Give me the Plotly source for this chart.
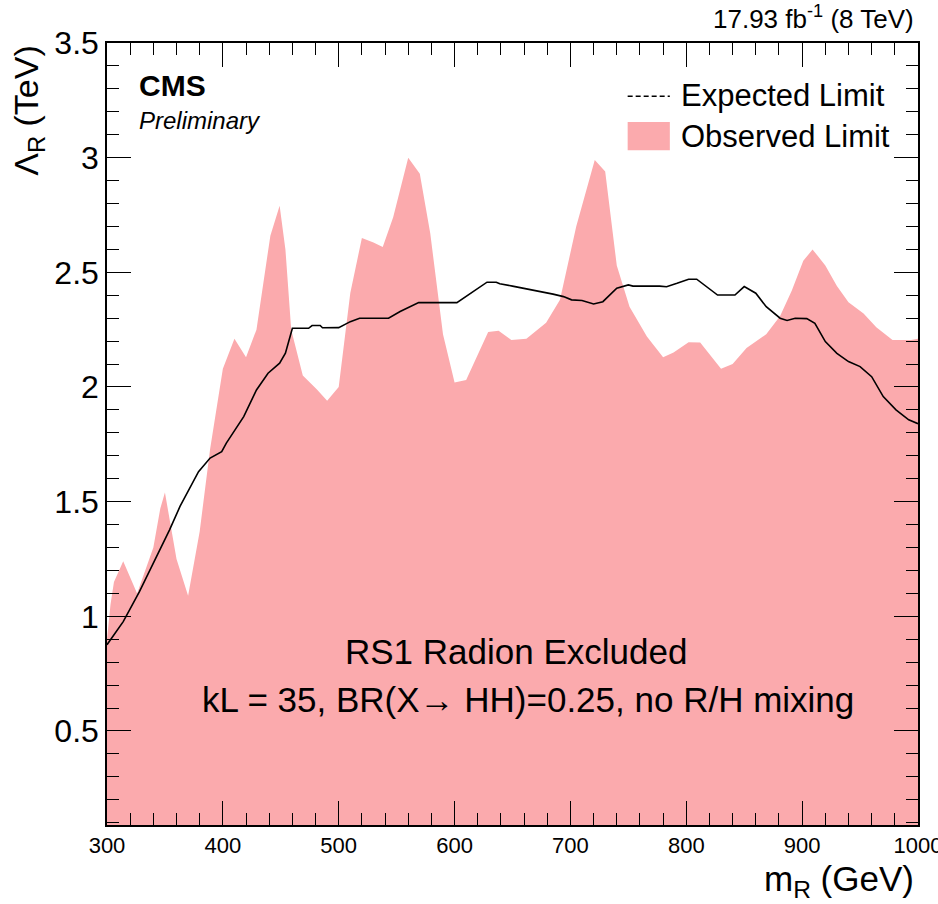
import plotly.graph_objects as go

# Observed limit (filled region)
obs_m = [300, 303, 306, 314, 326, 340, 346, 350, 360, 370, 380, 389, 400, 410, 420, 429,
         441, 449, 454, 459, 469, 481, 490, 500, 510, 520, 530, 538, 547, 560, 570, 579,
         590, 600, 610, 629, 638, 649, 662, 679, 691, 705, 721, 730, 740, 751, 766, 780,
         789, 802, 812, 830, 840, 852, 869, 881, 891, 901, 909, 920, 930, 940, 953, 964,
         978, 994, 1000]
obs_v = [0.90, 1.05, 1.15, 1.24, 1.10, 1.30, 1.47, 1.54, 1.25, 1.09, 1.37, 1.73, 2.08, 2.21, 2.13, 2.25,
         2.66, 2.79, 2.60, 2.25, 2.05, 1.99, 1.94, 2.00, 2.41, 2.65, 2.63, 2.61, 2.74, 3.00, 2.93, 2.67,
         2.23, 2.02, 2.03, 2.24, 2.245, 2.205, 2.21, 2.28, 2.38, 2.70, 2.99, 2.94, 2.53, 2.35, 2.22, 2.13,
         2.15, 2.195, 2.194, 2.08, 2.10, 2.17, 2.23, 2.31, 2.42, 2.55, 2.60, 2.53, 2.44, 2.37, 2.32, 2.26,
         2.205, 2.205, 2.21]

# Expected limit (line)
exp_m = [300, 314, 328, 343, 354, 363, 379, 389, 399, 403, 418, 429, 439, 449, 454, 460, 474, 477,
         484, 486, 500, 510, 518, 543, 553, 569, 602, 616, 628, 636, 639, 650, 661, 671, 685, 694,
         701, 710, 720, 728, 735, 740, 750, 754, 777, 783, 792, 802, 809, 820, 827, 842, 850, 860,
         869, 881, 887, 894, 904, 911, 920, 930, 940, 950, 960, 970, 981, 992, 1000]
exp_v = [0.876, 0.977, 1.108, 1.261, 1.377, 1.479, 1.631, 1.69, 1.718, 1.755, 1.871, 1.987, 2.06,
         2.104, 2.147, 2.256, 2.256, 2.268, 2.268, 2.258, 2.259, 2.285, 2.30, 2.30, 2.329, 2.368,
         2.368, 2.416, 2.457, 2.457, 2.45, 2.44, 2.43, 2.42, 2.405, 2.394, 2.38, 2.377, 2.362, 2.372,
         2.409, 2.431, 2.445, 2.44, 2.44, 2.437, 2.452, 2.47, 2.47, 2.426, 2.401, 2.401, 2.438, 2.409,
         2.35, 2.30, 2.29, 2.30, 2.298, 2.278, 2.198, 2.147, 2.111, 2.089, 2.045, 1.958, 1.90, 1.857, 1.84]

x_ticks = [300, 400, 500, 600, 700, 800, 900, 1000]
y_ticks = [0.5, 1, 1.5, 2, 2.5, 3, 3.5]

PINK = "#FBAAAD"
FONT = "Liberation Sans, Arial, Helvetica, sans-serif"

fig = go.Figure()
fig.add_trace(go.Scatter(x=obs_m, y=obs_v, mode="lines", fill="tozeroy",
                         fillcolor=PINK, line=dict(width=0, color=PINK),
                         showlegend=False, hoverinfo="skip"))
fig.add_trace(go.Scatter(x=exp_m, y=exp_v, mode="lines",
                         line=dict(color="black", width=1.6),
                         showlegend=False))

fig.update_layout(
    width=938, height=904,
    margin=dict(l=107, r=20, t=43, b=79),
    plot_bgcolor="white", paper_bgcolor="white",
    font=dict(family=FONT, color="black"),
    showlegend=False,
)
fig.update_xaxes(range=[300, 1000], tickvals=x_ticks, ticktext=[str(v) for v in x_ticks],
                 ticks="inside", ticklen=24, tickwidth=1.3, tickcolor="black",
                 minor=dict(dtick=20, ticks="inside", ticklen=12, tickwidth=1.3, tickcolor="black"),
                 showline=True, linecolor="black", linewidth=1.5, mirror="allticks",
                 showgrid=False, zeroline=False, tickfont=dict(size=22, family=FONT),
                 ticklabeloverflow="allow", automargin=False)
fig.update_yaxes(range=[0.09, 3.5], tickvals=y_ticks, ticktext=["0.5", "1", "1.5", "2", "2.5", "3", "3.5"],
                 ticks="inside", ticklen=24, tickwidth=1.3, tickcolor="black",
                 minor=dict(dtick=0.1, tick0=0, ticks="inside", ticklen=12, tickwidth=1.3, tickcolor="black"),
                 showline=True, linecolor="black", linewidth=1.5, mirror="allticks",
                 showgrid=False, zeroline=False, tickfont=dict(size=32, family=FONT),
                 automargin=False)

ann = []
ann.append(dict(text="m<sub>R</sub> (GeV)", xref="paper", yref="paper", x=0.997, y=-0.072,
                xanchor="right", yanchor="middle", showarrow=False, font=dict(size=35)))
ann.append(dict(text="Λ<sub>R</sub> (TeV)", xref="paper", yref="paper", x=-0.097, y=1.0,
                xanchor="center", yanchor="top", textangle=-90, showarrow=False, font=dict(size=34)))
ann.append(dict(text="17.93 fb<sup>-1</sup> (8 TeV)", xref="paper", yref="paper", x=0.997, y=1.032,
                xanchor="right", yanchor="middle", showarrow=False, font=dict(size=26)))
ann.append(dict(text="<b>CMS</b>", xref="paper", yref="paper", x=0.037, y=0.946,
                xanchor="left", yanchor="middle", showarrow=False, font=dict(size=30)))
ann.append(dict(text="<i>Preliminary</i>", xref="paper", yref="paper", x=0.037, y=0.901,
                xanchor="left", yanchor="middle", showarrow=False, font=dict(size=24)))
ann.append(dict(text="Expected Limit", xref="paper", yref="paper", x=0.705, y=0.933,
                xanchor="left", yanchor="middle", showarrow=False, font=dict(size=31)))
ann.append(dict(text="Observed Limit", xref="paper", yref="paper", x=0.705, y=0.880,
                xanchor="left", yanchor="middle", showarrow=False, font=dict(size=31)))
ann.append(dict(text="RS1 Radion Excluded", xref="paper", yref="paper", x=0.504, y=0.2225,
                xanchor="center", yanchor="middle", showarrow=False, font=dict(size=35)))
ann.append(dict(text="kL = 35, BR(X→ HH)=0.25, no R/H mixing", xref="paper", yref="paper",
                x=0.519, y=0.16, xanchor="center", yanchor="middle", showarrow=False,
                font=dict(size=35)))
fig.update_layout(annotations=ann)

fig.add_shape(type="line", xref="paper", yref="paper", x0=0.642, x1=0.694, y0=0.932, y1=0.932,
              line=dict(color="black", width=1.6, dash="5px,3px"))
fig.add_shape(type="rect", xref="paper", yref="paper", x0=0.642, x1=0.694, y0=0.863, y1=0.899,
              line=dict(width=0), fillcolor=PINK)

fig.write_html("out.html")
